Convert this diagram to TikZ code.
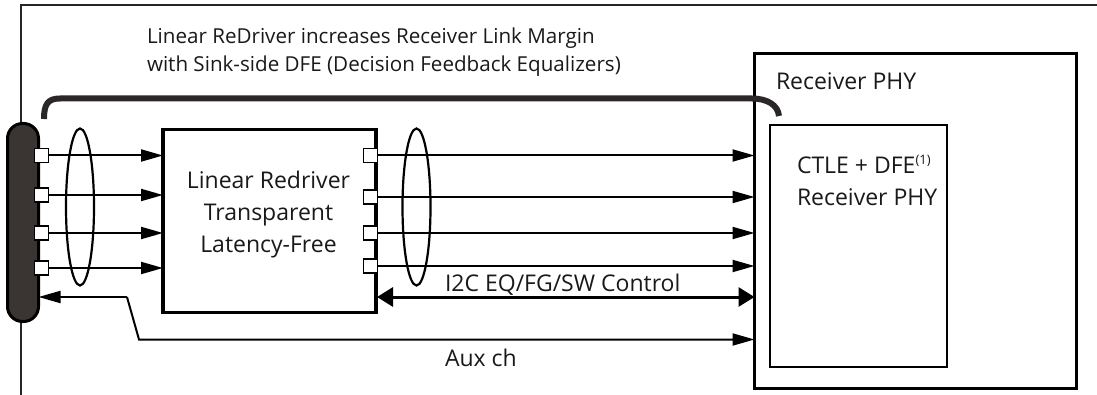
\documentclass[tikz,border=0pt]{standalone}
\usepackage{fontspec}
\setmainfont{Open Sans}
\usetikzlibrary{arrows.meta,calc,shapes.geometric}
\definecolor{pilldark}{HTML}{3A3533}
\definecolor{curvedark}{HTML}{2B2727}
\tikzset{
  x=1pt,y=-1pt,
  bigbox/.style={draw=black,line width=3pt,fill=white,outer sep=0pt,inner sep=0pt,anchor=north west},
  innerbox/.style={draw=black,line width=2pt,fill=white,outer sep=0pt,inner sep=0pt,anchor=north west},
  port/.style={draw=black,line width=1.8pt,fill=white,minimum width=14pt,minimum height=14pt,outer sep=0pt,inner sep=0pt},
  pill/.style={draw=black,line width=3pt,fill=pilldark,rounded corners=15pt,minimum width=31pt,minimum height=198pt,outer sep=0pt,inner sep=0pt},
  sig/.style={draw=black,line width=2pt,-{Triangle[length=22pt,width=12pt]}},
  ctl/.style={draw=black,line width=3pt,{Triangle[length=16pt,width=19pt]}-{Triangle[length=16pt,width=19pt]}},
  bundle/.style={draw=black,line width=2.2pt,ellipse,minimum width=28pt,minimum height=157pt,inner sep=0pt,outer sep=0pt},
  txt/.style={anchor=base west,inner sep=0pt,outer sep=0pt,font=\fontsize{20.6}{24}\selectfont,text=black!90},
  big/.style={anchor=base west,inner sep=0pt,outer sep=0pt,font=\fontsize{23}{26}\selectfont,text=black!90},
  ctr/.style={anchor=base,inner sep=0pt,outer sep=0pt,font=\fontsize{23}{26}\selectfont,text=black!90},
}
\begin{document}
\begin{tikzpicture}
\useasboundingbox (0,0) rectangle (1097,395);
% frame
\coordinate (ftop) at (1097,5);
\coordinate (fcorner) at (21,5);
\coordinate (fbot) at (21,395);
\draw[line width=1.5pt,draw=black!85] (ftop) -- (fcorner) -- (fbot);
% main blocks
\node[bigbox,minimum width=322pt,minimum height=334.5pt] (rx) at (754.5,53.5) {};
\node[innerbox,minimum width=177pt,minimum height=242pt] (inner) at (770,125) {};
\node[bigbox,line width=3.5pt,minimum width=213pt,minimum height=183pt] (red) at (163,129.5) {};
\node[pill] (conn) at (23,222.5) {};
% ports
\node[port] (a1) at (41.5,155.5) {};
\node[port] (a2) at (41.5,195) {};
\node[port] (a3) at (41.5,233) {};
\node[port] (a4) at (41.5,268) {};
\node[port] (b1) at (370.5,155.5) {};
\node[port] (b2) at (370.5,197) {};
\node[port] (b3) at (370.5,233) {};
\node[port] (b4) at (370.5,266) {};
% signal arrows
\foreach \i in {1,2,3,4}{
  \draw[sig] (a\i.east) -- (a\i -| red.west);
  \draw[sig] (b\i.east) -- (b\i -| rx.west);
}
% bundles
\node[bundle,draw] (e1) at (80,207) {};
\node[bundle,draw] (e2) at (416.5,207) {};
% control
\coordinate (c1) at (377,297);
\draw[ctl] (c1) -- (c1 -| rx.west);
% aux
\coordinate (auxa) at (127,297);
\coordinate (auxb) at (139,339.5);
\draw[sig] (auxa) -- (auxa -| conn.east);
\draw[sig] (auxa) -- (auxb) -- (auxb -| rx.west);
% thick curve
\coordinate (k1) at (44,119);
\coordinate (k2) at (60,98.5);
\coordinate (k3) at (752,98.5);
\coordinate (k4) at (779,116);
\draw[line width=6pt,draw=curvedark] (k1) .. controls (44,104) and (48,98.5) .. (k2) -- (k3) .. controls (767,98.5) and (778,105) .. (k4);
% text
\node[txt] (t1) at (147,44) {Linear ReDriver increases Receiver Link Margin};
\node[txt] (t2) at (147,71.5) {with Sink-side DFE (Decision Feedback Equalizers)};
\node[big] (t3) at (776,90) {Receiver PHY};
\node[big] (t4) at (797,174) {CTLE + DFE\textsuperscript{\fontsize{13}{14}\selectfont(1)}};
\node[big] (t5) at (797,206) {Receiver PHY};
\node[ctr] (l1) at (268.5,189) {Linear Redriver};
\node[ctr] (l2) at (268.5,221) {Transparent};
\node[ctr] (l3) at (268.5,253) {Latency-Free};
\node[big] (t6) at (445,291) {I2C EQ/FG/SW Control};
\node[big] (t7) at (445,366) {Aux ch};
\end{tikzpicture}
\end{document}
